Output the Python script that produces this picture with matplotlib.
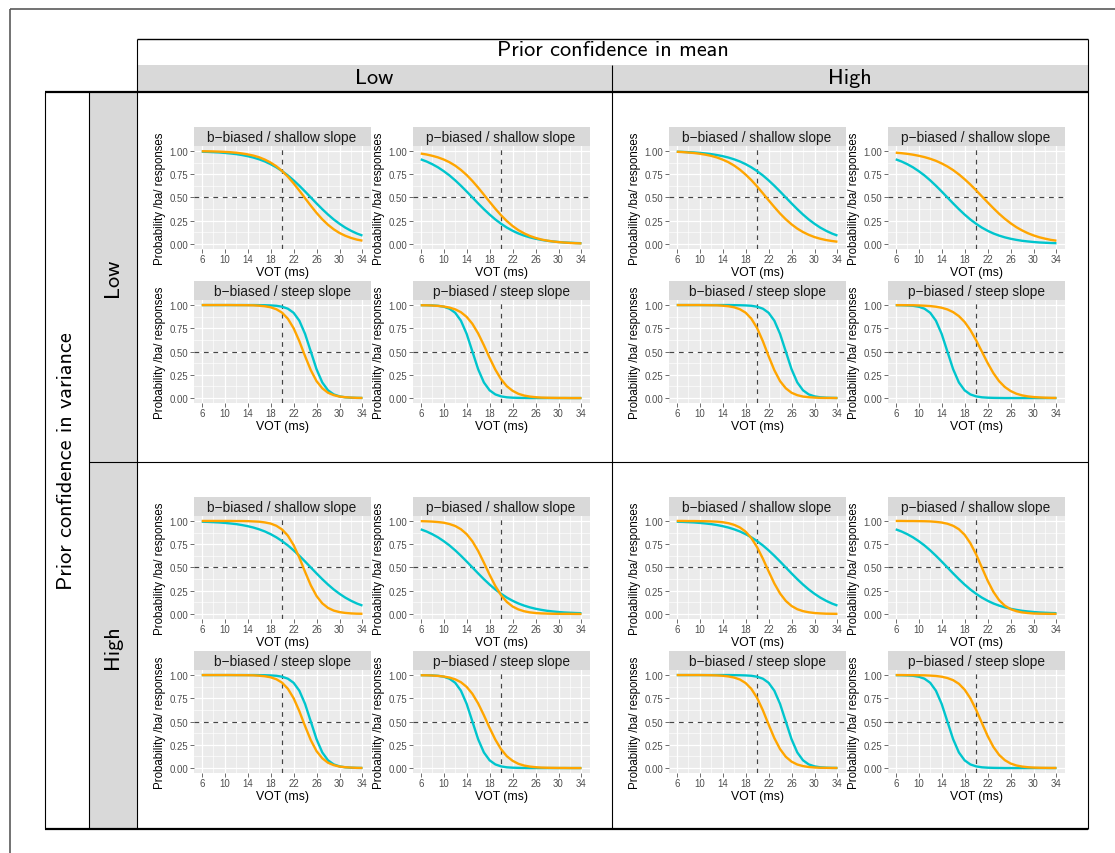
import matplotlib
matplotlib.use('Agg')
import matplotlib.pyplot as plt
from matplotlib.lines import Line2D
from matplotlib.patches import Rectangle

plt.rcParams['font.family'] = ['Liberation Sans', 'DejaVu Sans']

# ---------------- data ----------------
VOT = list(range(6, 35))  # 6 .. 34 ms

x_ticks = [6, 10, 14, 18, 22, 26, 30, 34]
y_ticks = [0.0, 0.25, 0.5, 0.75, 1.0]
y_tick_labels = ['0.00', '0.25', '0.50', '0.75', '1.00']

panel_titles = ['b\u2212biased / shallow slope', 'p\u2212biased / shallow slope',
                'b\u2212biased / steep slope', 'p\u2212biased / steep slope']
mean_conf_levels = ['Low', 'High']
var_conf_levels = ['Low', 'High']

# cyan curves (identical in every cell)
cyan_b_shallow = [0.992, 0.990, 0.987, 0.984, 0.979, 0.973, 0.966, 0.956, 0.944, 0.929, 0.910, 0.887,
                  0.858, 0.824, 0.783, 0.737, 0.684, 0.626, 0.564, 0.500, 0.436, 0.374, 0.316, 0.263,
                  0.217, 0.176, 0.142, 0.113, 0.090]
cyan_p_shallow = [0.910, 0.887, 0.858, 0.824, 0.783, 0.737, 0.684, 0.626, 0.564, 0.500, 0.436, 0.374,
                  0.316, 0.263, 0.217, 0.176, 0.142, 0.113, 0.090, 0.071, 0.056, 0.044, 0.034, 0.027,
                  0.021, 0.016, 0.013, 0.010, 0.008]
cyan_b_steep = [1.000, 1.000, 1.000, 1.000, 1.000, 1.000, 1.000, 1.000, 1.000, 1.000, 0.999, 0.998,
                0.996, 0.992, 0.982, 0.961, 0.917, 0.832, 0.690, 0.500, 0.310, 0.168, 0.083, 0.039,
                0.018, 0.008, 0.004, 0.002, 0.001]
cyan_p_steep = [0.999, 0.998, 0.996, 0.992, 0.982, 0.961, 0.917, 0.832, 0.690, 0.500, 0.310, 0.168,
                0.083, 0.039, 0.018, 0.008, 0.004, 0.002, 0.001, 0.000, 0.000, 0.000, 0.000, 0.000,
                0.000, 0.000, 0.000, 0.000, 0.000]

# orange curves: variance-confidence / mean-confidence
orange_lowvar_lowmean_b_shallow = [0.997, 0.996, 0.995, 0.993, 0.990, 0.986, 0.981, 0.973, 0.963, 0.950,
                                   0.932, 0.907, 0.875, 0.835, 0.784, 0.723, 0.652, 0.574, 0.492, 0.411,
                                   0.334, 0.265, 0.206, 0.157, 0.118, 0.088, 0.065, 0.047, 0.035]
orange_lowvar_lowmean_p_shallow = [0.972, 0.962, 0.948, 0.931, 0.908, 0.879, 0.842, 0.796, 0.741, 0.677,
                                   0.606, 0.530, 0.453, 0.378, 0.308, 0.246, 0.193, 0.149, 0.114, 0.086,
                                   0.065, 0.048, 0.036, 0.027, 0.020, 0.015, 0.011, 0.008, 0.006]
orange_lowvar_lowmean_b_steep = [1.000, 1.000, 1.000, 1.000, 1.000, 1.000, 0.999, 0.999, 0.998, 0.997,
                                 0.993, 0.987, 0.976, 0.955, 0.918, 0.853, 0.752, 0.612, 0.451, 0.300,
                                 0.182, 0.105, 0.057, 0.031, 0.016, 0.009, 0.005, 0.002, 0.001]
orange_lowvar_lowmean_p_steep = [0.998, 0.997, 0.995, 0.991, 0.984, 0.973, 0.954, 0.923, 0.873, 0.798,
                                 0.695, 0.568, 0.432, 0.305, 0.202, 0.127, 0.078, 0.046, 0.027, 0.016,
                                 0.009, 0.005, 0.003, 0.002, 0.001, 0.001, 0.000, 0.000, 0.000]

orange_lowvar_highmean_b_shallow = [0.991, 0.988, 0.983, 0.978, 0.970, 0.960, 0.947, 0.930, 0.907, 0.879,
                                    0.843, 0.799, 0.746, 0.686, 0.618, 0.545, 0.470, 0.397, 0.327, 0.265,
                                    0.211, 0.165, 0.128, 0.098, 0.074, 0.056, 0.042, 0.032, 0.024]
orange_lowvar_highmean_p_shallow = [0.981, 0.976, 0.969, 0.960, 0.948, 0.934, 0.916, 0.894, 0.866, 0.833,
                                    0.794, 0.748, 0.696, 0.639, 0.577, 0.512, 0.448, 0.385, 0.325, 0.271,
                                    0.223, 0.181, 0.146, 0.116, 0.092, 0.072, 0.057, 0.044, 0.035]
orange_lowvar_highmean_b_steep = [1.000, 1.000, 1.000, 1.000, 1.000, 0.999, 0.998, 0.997, 0.993, 0.987,
                                  0.976, 0.955, 0.918, 0.853, 0.752, 0.612, 0.451, 0.300, 0.182, 0.105,
                                  0.057, 0.031, 0.016, 0.009, 0.005, 0.002, 0.001, 0.001, 0.000]
orange_lowvar_highmean_p_steep = [0.999, 0.999, 0.998, 0.998, 0.996, 0.993, 0.989, 0.982, 0.971, 0.953,
                                  0.924, 0.881, 0.818, 0.731, 0.622, 0.500, 0.378, 0.269, 0.182, 0.119,
                                  0.076, 0.047, 0.029, 0.018, 0.011, 0.007, 0.004, 0.002, 0.001]

orange_highvar_lowmean_b_shallow = [1.000, 1.000, 1.000, 1.000, 1.000, 1.000, 0.999, 0.999, 0.998, 0.995,
                                    0.992, 0.984, 0.972, 0.948, 0.908, 0.842, 0.741, 0.606, 0.453, 0.308,
                                    0.193, 0.114, 0.065, 0.036, 0.020, 0.011, 0.006, 0.003, 0.002]
orange_highvar_lowmean_p_shallow = [0.998, 0.996, 0.993, 0.988, 0.981, 0.967, 0.946, 0.911, 0.858, 0.781,
                                    0.677, 0.552, 0.421, 0.300, 0.201, 0.129, 0.080, 0.049, 0.029, 0.017,
                                    0.010, 0.006, 0.004, 0.002, 0.001, 0.001, 0.001, 0.000, 0.000]
orange_highvar_lowmean_b_steep = [1.000, 1.000, 1.000, 1.000, 1.000, 1.000, 0.999, 0.999, 0.998, 0.997,
                                  0.993, 0.987, 0.976, 0.955, 0.918, 0.853, 0.752, 0.612, 0.451, 0.300,
                                  0.182, 0.105, 0.057, 0.031, 0.016, 0.009, 0.005, 0.002, 0.001]
orange_highvar_lowmean_p_steep = [0.998, 0.997, 0.995, 0.991, 0.984, 0.973, 0.954, 0.923, 0.873, 0.798,
                                  0.695, 0.568, 0.432, 0.305, 0.202, 0.127, 0.078, 0.046, 0.027, 0.016,
                                  0.009, 0.005, 0.003, 0.002, 0.001, 0.001, 0.000, 0.000, 0.000]

orange_highvar_highmean_b_shallow = [1.000, 1.000, 0.999, 0.999, 0.998, 0.997, 0.995, 0.992, 0.986, 0.976,
                                     0.958, 0.930, 0.885, 0.816, 0.718, 0.595, 0.459, 0.328, 0.220, 0.140,
                                     0.086, 0.051, 0.030, 0.018, 0.010, 0.006, 0.003, 0.002, 0.001]
orange_highvar_highmean_p_shallow = [1.000, 1.000, 0.999, 0.999, 0.998, 0.997, 0.995, 0.990, 0.983, 0.970,
                                     0.948, 0.911, 0.851, 0.761, 0.641, 0.500, 0.359, 0.239, 0.149, 0.089,
                                     0.052, 0.030, 0.017, 0.010, 0.005, 0.003, 0.002, 0.001, 0.001]
orange_highvar_highmean_b_steep = [1.000, 1.000, 1.000, 1.000, 1.000, 0.999, 0.998, 0.996, 0.992, 0.985,
                                   0.973, 0.952, 0.914, 0.851, 0.754, 0.622, 0.469, 0.322, 0.204, 0.121,
                                   0.069, 0.038, 0.021, 0.011, 0.006, 0.003, 0.002, 0.001, 0.001]
orange_highvar_highmean_p_steep = [1.000, 1.000, 0.999, 0.999, 0.998, 0.997, 0.994, 0.990, 0.982, 0.968,
                                   0.945, 0.906, 0.843, 0.750, 0.627, 0.486, 0.346, 0.228, 0.142, 0.085,
                                   0.049, 0.028, 0.016, 0.009, 0.005, 0.003, 0.002, 0.001, 0.001]

cyan_curves = [cyan_b_shallow, cyan_p_shallow, cyan_b_steep, cyan_p_steep]
orange_curves = {
    (0, 0): [orange_lowvar_lowmean_b_shallow, orange_lowvar_lowmean_p_shallow,
             orange_lowvar_lowmean_b_steep, orange_lowvar_lowmean_p_steep],
    (0, 1): [orange_lowvar_highmean_b_shallow, orange_lowvar_highmean_p_shallow,
             orange_lowvar_highmean_b_steep, orange_lowvar_highmean_p_steep],
    (1, 0): [orange_highvar_lowmean_b_shallow, orange_highvar_lowmean_p_shallow,
             orange_highvar_lowmean_b_steep, orange_highvar_lowmean_p_steep],
    (1, 1): [orange_highvar_highmean_b_shallow, orange_highvar_highmean_p_shallow,
             orange_highvar_highmean_b_steep, orange_highvar_highmean_p_steep],
}

CYAN = '#00C5CD'
ORANGE = '#FFA500'

# ---------------- figure ----------------
W, H = 1115, 854
fig = plt.figure(figsize=(W / 100, H / 100), dpi=100)
fig.patch.set_facecolor('white')


def fx(x):
    return x / W


def fy(y):
    return 1 - y / H


def add_ax(x0, y0, x1, y1):
    return fig.add_axes([fx(x0), fy(y1), (x1 - x0) / W, (y1 - y0) / H])


def hline(y, x0, x1, lw=0.8, color='black'):
    fig.add_artist(Line2D([fx(x0), fx(x1)], [fy(y), fy(y)], transform=fig.transFigure,
                          color=color, lw=lw, solid_capstyle='butt'))


def vline(x, y0, y1, lw=0.8, color='black'):
    fig.add_artist(Line2D([fx(x), fx(x)], [fy(y0), fy(y1)], transform=fig.transFigure,
                          color=color, lw=lw, solid_capstyle='butt'))


def rect(x0, y0, x1, y1, color):
    fig.add_artist(Rectangle((fx(x0), fy(y1)), (x1 - x0) / W, (y1 - y0) / H,
                             transform=fig.transFigure, facecolor=color, edgecolor='none', zorder=0))


# outer table
rect(137, 66, 1088, 93, '#D9D9D9')
rect(89, 93, 136.5, 830, '#D9D9D9')

# page border
hline(10, 10, W, lw=1.2, color='#5a5a5a')
vline(10, 10, H, lw=1.2, color='#5a5a5a')

hline(40, 137, 1088, lw=1.0)
hline(93, 45, 1088, lw=1.6)
hline(463, 89, 1088, lw=0.8)
hline(830, 45, 1088, lw=1.6)
vline(45, 93, 830)
vline(89, 93, 830)
vline(137, 40, 830)
vline(612, 66, 830)
vline(1088, 40, 830)

outer_font = dict(family='cmss10', size=16, color='black')
fig.text(fx(612.5), fy(51), 'Prior confidence in mean', ha='center', va='center', **outer_font)
fig.text(fx(374.5), fy(78), mean_conf_levels[0], ha='center', va='center', **outer_font)
fig.text(fx(850), fy(78), mean_conf_levels[1], ha='center', va='center', **outer_font)
fig.text(fx(67), fy(461.5), 'Prior confidence in variance', ha='center', va='center',
         rotation=90, **outer_font)
fig.text(fx(113), fy(278), var_conf_levels[0], ha='center', va='center', rotation=90, **outer_font)
fig.text(fx(113), fy(647), var_conf_levels[1], ha='center', va='center', rotation=90, **outer_font)

# inner ggplot-like panels
cell_origin = {(0, 0): (137, 93), (0, 1): (612, 93), (1, 0): (137, 463), (1, 1): (612, 463)}
col_x = [(56.7, 233.5), (275.7, 452.5)]
row_strip = [(35.0, 54.3), (189.0, 208.4)]
row_panel = [(54.3, 156.6), (208.4, 310.7)]

minor_x = [8, 12, 16, 20, 24, 28, 32]
minor_y = [0.125, 0.375, 0.625, 0.875]

for (r, c), (ox, oy) in cell_origin.items():
    for k in range(4):
        pr, pc = divmod(k, 2)
        x0, x1 = ox + col_x[pc][0], ox + col_x[pc][1]
        sy0, sy1 = oy + row_strip[pr][0], oy + row_strip[pr][1]
        py0, py1 = oy + row_panel[pr][0], oy + row_panel[pr][1]

        # strip
        sax = add_ax(x0, sy0, x1, sy1)
        sax.set_facecolor('#D9D9D9')
        sax.set_xticks([])
        sax.set_yticks([])
        for s in sax.spines.values():
            s.set_visible(False)
        sax.text(0.5, 0.47, panel_titles[k], ha='center', va='center', transform=sax.transAxes,
                 fontsize=9.8, color='#1A1A1A')

        ax = add_ax(x0, py0, x1, py1)
        ax.set_facecolor('#EBEBEB')
        ax.set_xlim(4.6, 35.4)
        ax.set_ylim(-0.05, 1.05)
        ax.set_xticks(x_ticks)
        ax.set_xticklabels([str(t) for t in x_ticks])
        ax.set_yticks(y_ticks)
        ax.set_yticklabels(y_tick_labels)
        ax.set_xticks(minor_x, minor=True)
        ax.set_yticks(minor_y, minor=True)
        ax.grid(which='major', color='white', lw=0.9)
        ax.grid(which='minor', color='white', lw=0.45)
        ax.set_axisbelow(True)
        for s in ax.spines.values():
            s.set_visible(False)
        ax.tick_params(which='major', length=2.7, width=0.5, color='#333333',
                       labelsize=6.9, labelcolor='#4D4D4D', pad=1.2)
        ax.tick_params(which='minor', length=0)

        ax.axvline(20, color='#444444', lw=0.85, ls=(0, (4, 4)), zorder=1.5)
        ax.axhline(0.5, color='#444444', lw=0.85, ls=(0, (4, 4)), zorder=1.5)

        ax.plot(VOT, cyan_curves[k], color=CYAN, lw=1.7, zorder=2, solid_capstyle='butt')
        ax.plot(VOT, orange_curves[(r, c)][k], color=ORANGE, lw=1.7, zorder=2.1,
                solid_capstyle='butt')

        ax.set_xlabel('VOT (ms)', fontsize=8.8, labelpad=1.2, color='black')
        ax.set_ylabel('Probability /ba/ responses', fontsize=8.3, labelpad=2.5, color='black')

fig.savefig('out.png', dpi=100, facecolor='white')
